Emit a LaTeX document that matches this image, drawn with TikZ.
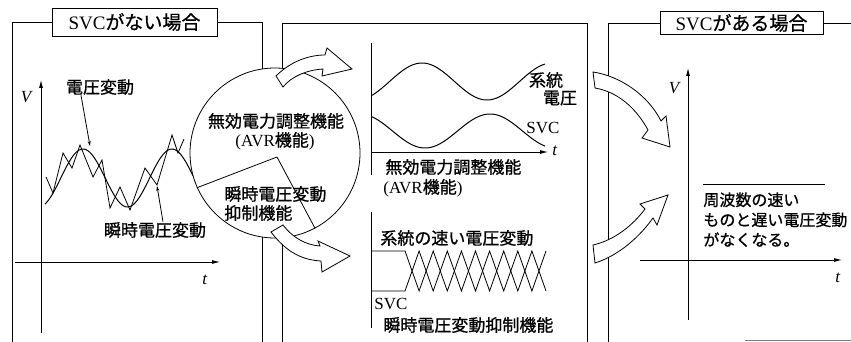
\documentclass[tikz,border=0pt]{standalone}
\usepackage{fontspec}
\setmainfont{Liberation Serif}
\newfontfamily\jp[FakeBold=0.8]{Noto Sans CJK JP}
\usetikzlibrary{arrows.meta}

\tikzset{
    lbl/.style={inner sep=0pt, font=\fontsize{17}{20}\selectfont},
    small lbl/.style={inner sep=0pt, font=\fontsize{16}{20}\selectfont},
    title/.style={draw, fill=white, inner sep=0pt, font=\fontsize{19}{21}\selectfont},
    axis/.style={-{Latex[length=8pt, width=4pt]}},
    pointer/.style={-{Stealth[length=5pt, width=3pt]}},
    fatarrow/.style={draw, fill=white, line join=miter},
}

\begin{document}
\begin{tikzpicture}[x=1pt, y=-1pt, line width=0.8pt]
    \useasboundingbox (0,0) rectangle (851,342);

    % frames
    \node[title, minimum width=165pt, minimum height=28pt] (noSVC) at (134.5,22) {SVC{\jp がない場合}};
    \node[title, minimum width=163pt, minimum height=23pt] (withSVC) at (741.5,23) {SVC{\jp がある場合}};
    \draw (noSVC.west) -- (12,22) -- (12,342);
    \draw (noSVC.east) -- (262,22) -- (262,342);
    \draw (282,342) -- (282,23) -- (587,23) -- (587,342);
    \draw (withSVC.west) -- (608,23) -- (608,342);
    \draw (withSVC.east) -- (851,23);
    \draw[gray] (745,340.5) -- (851,340.5);

    % left: without SVC
    \draw[axis] (41,333) -- (41,80);
    \draw[axis] (15,262) -- (220,262);
    \node[lbl] (vL) at (27,97) {\textit{V}};
    \node[lbl] (tL) at (205,280) {\textit{t}};
    \draw[line width=1pt] plot[domain=45:193, samples=80, smooth] (\x, {178-29*cos(4.05*(\x-83))});
    \draw plot coordinates {(46,177) (53,193) (63,153) (72,168) (80,145) (93,177) (102,160)
        (110,208) (120,187) (130,210) (145,168) (157,185) (172,135) (178,153) (184,139)};
    \node[lbl] (slow) at (100,87) {\jp 電圧変動};
    \node[lbl] (fast) at (155,230) {\jp 瞬時電圧変動};
    \coordinate (slowpt) at (90,146);
    \coordinate (fastpt) at (157,186);
    \draw[pointer] ([xshift=-19pt]slow.south) -- (slowpt);
    \draw[pointer] ([xshift=8pt]fast.north) -- (fastpt);

    % SVC functions
    \node[draw, circle, fill=white, minimum size=170pt, inner sep=0pt] (svc) at (275,153) {};
    \coordinate (split) at (277,157);
    \draw (svc.204) -- (split) -- (svc.-62);
    \node[lbl] (avr) at (276,121) {\jp 無効電力調整機能};
    \node[lbl] (avr2) at (275,141) {(AVR{\jp 機能})};
    \node[lbl, anchor=west] (inst) at (224,194) {\jp 瞬時電圧変動};
    \node[lbl, anchor=west] (inst2) at (224,213) {\jp 抑制機能};

    \draw[fatarrow] (276,76) .. controls (290,62) and (308,55) .. (325,55) -- (327,48) -- (352,69)
        -- (322,76) -- (323,69) .. controls (307,70) and (292,76) .. (283,87) -- cycle;
    \draw[fatarrow] (283,225) .. controls (293,238) and (306,245) .. (320,246) -- (318,241) -- (350,256)
        -- (322,272) -- (321,261) .. controls (303,260) and (287,253) .. (271,232) -- cycle;

    % middle: slow variation
    \draw (371,43) -- (371,175);
    \draw[axis] (371,152) -- (548,152);
    \node[lbl] (tM) at (555,151) {\textit{t}};
    \draw[line width=1pt] plot[domain=372:545, samples=80, smooth] (\x, {81.5-18.5*cos((\x-422)*2.769)});
    \draw[line width=1pt] plot[domain=372:545, samples=80, smooth] (\x, {131+17*cos((\x-425)*2.769)});
    \node[lbl] (grid) at (546,80) {\jp 系統};
    \node[lbl] (grid2) at (560,98) {\jp 電圧};
    \node[lbl] (svcM) at (543,128) {SVC};
    \node[lbl, anchor=west] (avrM) at (385,167) {\jp 無効電力調整機能};
    \node[lbl, anchor=west] (avrM2) at (383,188) {(AVR{\jp 機能})};

    % middle: fast variation
    \draw (371,212) -- (371,328);
    \node[lbl, anchor=west] (fastM) at (380,238) {\jp 系統の速い電圧変動};
    \draw (371,251) -- (405,251) -- plot[domain=0:10, samples=11] ({405+14.1*\x}, {271-20*cos(180*\x)});
    \draw (371,291) -- (405,291) -- plot[domain=0:10, samples=11] ({405+14.1*\x}, {271+20*cos(180*\x)});
    \node[lbl, anchor=west] (svcB) at (374,304) {SVC};
    \node[lbl, anchor=west] (instM) at (383,325) {\jp 瞬時電圧変動抑制機能};

    \draw[fatarrow] (593,72) .. controls (620,76) and (648,95) .. (661,121) -- (666,116) -- (670,147)
        -- (642,138) -- (648,130) .. controls (636,108) and (618,92) .. (595,88) -- cycle;
    \draw[fatarrow] (593,245) .. controls (615,240) and (633,225) .. (645,209) -- (640,204) -- (668,195)
        -- (657,225) -- (653,218) .. controls (640,236) and (620,255) .. (595,263) -- cycle;

    % right: with SVC
    \draw[axis] (688,320) -- (688,68);
    \draw[axis] (640,260) -- (842,260);
    \node[lbl] (vR) at (675,88) {\textit{V}};
    \node[lbl] (tR) at (838,278) {\textit{t}};
    \draw (703,184) -- (825,184);
    \node[small lbl, anchor=north west, align=left] (result) at (703,192)
        {\jp 周波数の速い\\\jp ものと遅い電圧変動\\\jp がなくなる。};
\end{tikzpicture}
\end{document}
